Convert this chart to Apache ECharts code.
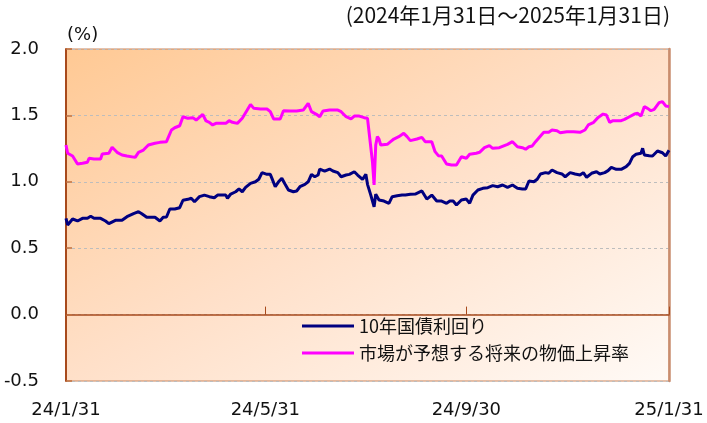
<!DOCTYPE html>
<html>
<head>
<meta charset="utf-8">
<script src="https://cdn.jsdelivr.net/npm/echarts@6/dist/echarts.min.js"></script>
<style>
html,body{margin:0;padding:0;background:#fff;}
#chart{width:707px;height:423px;}
</style>
</head>
<body>
<div id="chart"></div>
<script>
// ---- data ----
const seriesNames = ['10年国債利回り', '市場が予想する将来の物価上昇率'];

const jgbDates = ['2024-01-31','2024-02-01','2024-02-04','2024-02-07','2024-02-10','2024-02-13','2024-02-15','2024-02-17','2024-02-21','2024-02-24','2024-02-26','2024-03-01','2024-03-05','2024-03-08','2024-03-12','2024-03-15','2024-03-17','2024-03-20','2024-03-25','2024-03-28','2024-03-30','2024-04-01','2024-04-03','2024-04-06','2024-04-09','2024-04-11','2024-04-14','2024-04-16','2024-04-18','2024-04-21','2024-04-24','2024-04-27','2024-04-30','2024-05-02','2024-05-07','2024-05-08','2024-05-10','2024-05-13','2024-05-15','2024-05-17','2024-05-19','2024-05-22','2024-05-25','2024-05-27','2024-05-29','2024-06-01','2024-06-03','2024-06-04','2024-06-06','2024-06-08','2024-06-10','2024-06-12','2024-06-14','2024-06-17','2024-06-19','2024-06-21','2024-06-24','2024-06-26','2024-06-28','2024-06-30','2024-07-02','2024-07-03','2024-07-06','2024-07-09','2024-07-11','2024-07-14','2024-07-16','2024-07-19','2024-07-21','2024-07-24','2024-07-26','2024-07-29','2024-07-31','2024-08-01','2024-08-03','2024-08-05','2024-08-06','2024-08-08','2024-08-11','2024-08-14','2024-08-16','2024-08-19','2024-08-22','2024-08-24','2024-08-27','2024-08-30','2024-09-03','2024-09-06','2024-09-09','2024-09-12','2024-09-15','2024-09-18','2024-09-20','2024-09-22','2024-09-24','2024-09-27','2024-09-30','2024-10-02','2024-10-04','2024-10-07','2024-10-10','2024-10-13','2024-10-16','2024-10-19','2024-10-22','2024-10-25','2024-10-28','2024-10-31','2024-11-03','2024-11-05','2024-11-07','2024-11-10','2024-11-12','2024-11-14','2024-11-17','2024-11-19','2024-11-21','2024-11-24','2024-11-27','2024-11-29','2024-12-02','2024-12-05','2024-12-08','2024-12-10','2024-12-12','2024-12-15','2024-12-18','2024-12-20','2024-12-23','2024-12-25','2024-12-27','2024-12-30','2025-01-02','2025-01-05','2025-01-07','2025-01-09','2025-01-11','2025-01-14','2025-01-15','2025-01-16','2025-01-19','2025-01-21','2025-01-24','2025-01-27','2025-01-29','2025-01-31'];
const jgbValues = [0.725,0.675,0.72,0.705,0.725,0.725,0.74,0.725,0.725,0.705,0.685,0.71,0.71,0.737,0.76,0.775,0.76,0.733,0.733,0.705,0.733,0.735,0.795,0.795,0.805,0.861,0.868,0.876,0.85,0.888,0.9,0.888,0.88,0.9,0.9,0.876,0.908,0.925,0.946,0.925,0.958,0.988,1.0,1.019,1.069,1.056,1.056,1.026,0.963,1.0,1.026,0.981,0.938,0.925,0.931,0.963,0.981,1.0,1.056,1.038,1.051,1.096,1.081,1.096,1.081,1.069,1.038,1.051,1.056,1.076,1.051,1.018,1.056,0.981,0.9,0.812,0.906,0.863,0.855,0.838,0.888,0.895,0.9,0.9,0.906,0.908,0.931,0.87,0.9,0.855,0.855,0.838,0.855,0.855,0.825,0.863,0.87,0.838,0.9,0.938,0.951,0.956,0.971,0.963,0.976,0.958,0.976,0.951,0.946,0.946,1.006,1.0,1.019,1.059,1.069,1.064,1.089,1.069,1.059,1.038,1.069,1.059,1.051,1.069,1.034,1.064,1.076,1.059,1.069,1.084,1.109,1.094,1.094,1.114,1.139,1.189,1.207,1.215,1.252,1.202,1.197,1.194,1.232,1.219,1.194,1.237];

const beiDates = ['2024-01-31','2024-02-01','2024-02-04','2024-02-07','2024-02-10','2024-02-13','2024-02-14','2024-02-17','2024-02-21','2024-02-22','2024-02-26','2024-02-28','2024-03-02','2024-03-05','2024-03-08','2024-03-13','2024-03-15','2024-03-18','2024-03-21','2024-03-25','2024-03-28','2024-04-01','2024-04-04','2024-04-06','2024-04-09','2024-04-11','2024-04-14','2024-04-17','2024-04-19','2024-04-23','2024-04-25','2024-04-27','2024-04-29','2024-05-01','2024-05-07','2024-05-09','2024-05-11','2024-05-14','2024-05-17','2024-05-20','2024-05-22','2024-05-24','2024-05-28','2024-06-01','2024-06-03','2024-06-05','2024-06-09','2024-06-11','2024-06-15','2024-06-19','2024-06-23','2024-06-26','2024-06-28','2024-07-01','2024-07-03','2024-07-05','2024-07-09','2024-07-14','2024-07-16','2024-07-19','2024-07-22','2024-07-24','2024-07-27','2024-07-30','2024-07-31','2024-08-01','2024-08-04','2024-08-05','2024-08-06','2024-08-07','2024-08-08','2024-08-09','2024-08-13','2024-08-15','2024-08-16','2024-08-17','2024-08-20','2024-08-23','2024-08-25','2024-08-27','2024-08-31','2024-09-03','2024-09-05','2024-09-09','2024-09-11','2024-09-13','2024-09-15','2024-09-18','2024-09-21','2024-09-24','2024-09-27','2024-09-30','2024-10-02','2024-10-06','2024-10-08','2024-10-11','2024-10-14','2024-10-16','2024-10-20','2024-10-25','2024-10-28','2024-10-31','2024-11-03','2024-11-05','2024-11-07','2024-11-09','2024-11-11','2024-11-14','2024-11-16','2024-11-19','2024-11-21','2024-11-24','2024-11-26','2024-11-30','2024-12-04','2024-12-05','2024-12-08','2024-12-11','2024-12-13','2024-12-16','2024-12-19','2024-12-22','2024-12-24','2024-12-26','2024-12-28','2025-01-02','2025-01-04','2025-01-07','2025-01-10','2025-01-12','2025-01-14','2025-01-16','2025-01-18','2025-01-20','2025-01-22','2025-01-25','2025-01-27','2025-01-29','2025-01-30','2025-01-31'];
const beiValues = [1.277,1.215,1.194,1.134,1.139,1.147,1.177,1.172,1.172,1.209,1.215,1.26,1.222,1.202,1.194,1.184,1.222,1.239,1.277,1.29,1.297,1.302,1.39,1.407,1.422,1.49,1.478,1.483,1.465,1.508,1.458,1.448,1.428,1.44,1.44,1.46,1.448,1.44,1.478,1.54,1.583,1.553,1.548,1.548,1.528,1.473,1.473,1.535,1.533,1.533,1.54,1.591,1.528,1.508,1.49,1.533,1.54,1.54,1.528,1.49,1.473,1.495,1.495,1.483,1.483,1.478,1.151,0.976,1.277,1.34,1.322,1.277,1.282,1.302,1.29,1.322,1.34,1.365,1.34,1.31,1.322,1.335,1.302,1.302,1.227,1.197,1.194,1.134,1.127,1.127,1.189,1.177,1.207,1.215,1.222,1.257,1.272,1.252,1.257,1.282,1.302,1.264,1.257,1.245,1.264,1.27,1.302,1.345,1.373,1.373,1.39,1.385,1.37,1.377,1.377,1.39,1.373,1.39,1.428,1.445,1.485,1.51,1.503,1.448,1.46,1.46,1.47,1.49,1.51,1.516,1.495,1.566,1.553,1.535,1.546,1.596,1.604,1.571,1.586,1.566];

const tickDates = ['2024-01-31','2024-05-31','2024-09-30','2025-01-31'];
const tickLabels = ['24/1/31','24/5/31','24/9/30','25/1/31'];
const yTicks = [-0.5, 0.0, 0.5, 1.0, 1.5, 2.0];

// ---- chart ----
const toTime = d => Date.UTC(+d.slice(0, 4), +d.slice(5, 7) - 1, +d.slice(8, 10));
const toPairs = (d, v) => d.map((x, i) => [toTime(x), v[i]]);
const tickTimes = tickDates.map(toTime);

const chart = echarts.init(document.getElementById('chart'), null, {renderer: 'canvas'});
chart.setOption({
  animation: false,
  backgroundColor: '#ffffff',
  title: [
    {text: '(%)', left: 67, top: 26, padding: 0,
     textStyle: {fontFamily: 'DejaVu Sans', fontSize: 18, fontWeight: 'normal', color: '#111'}},
    {text: '(2024年1月31日～2025年1月31日)', right: 37, top: 5, padding: 0,
     textStyle: {fontFamily: 'Noto Sans CJK JP', fontSize: 21, fontWeight: 'normal', color: '#111'}}
  ],
  grid: {
    left: 66, top: 49, right: 38, bottom: 42,
    show: true,
    borderColor: '#c8845c', borderWidth: 1,
    backgroundColor: new echarts.graphic.LinearGradient(66, 49, 346, 558, [
      {offset: 0, color: '#ffc994'},
      {offset: 0.5, color: '#ffe0c9'},
      {offset: 1, color: '#fffaf6'}
    ], true)
  },
  legend: {
    orient: 'vertical', left: 302, top: 315, padding: 0,
    icon: 'rect', itemWidth: 52, itemHeight: 3, itemGap: 5,
    data: seriesNames,
    textStyle: {fontFamily: 'Noto Sans CJK JP', fontSize: 18, color: '#111', lineHeight: 22}
  },
  xAxis: {
    type: 'value',
    min: tickTimes[0], max: tickTimes[tickTimes.length - 1],
    axisLine: {show: true, lineStyle: {color: '#a84a1c', width: 1.5}},
    axisTick: {show: true, inside: true, length: 8, customValues: tickTimes, lineStyle: {color: '#a84a1c'}},
    axisLabel: {
      customValues: tickTimes, margin: 20,
      fontFamily: 'DejaVu Sans', fontSize: 18, color: '#111',
      showMinLabel: true, showMaxLabel: true,
      formatter: v => { const i = tickTimes.indexOf(v); return i >= 0 ? tickLabels[i] : ''; }
    },
    splitLine: {show: false}
  },
  yAxis: [{
    type: 'value', min: yTicks[0], max: yTicks[yTicks.length - 1], interval: 0.5,
    axisLine: {show: true, lineStyle: {color: '#a84a1c', width: 2}},
    axisTick: {show: true, inside: true, length: 6, lineStyle: {color: '#c0703f', width: 1.5}},
    axisLabel: {margin: 27, fontFamily: 'DejaVu Sans', fontSize: 18, color: '#111',
      formatter: v => v.toFixed(1)},
    splitLine: {show: true, lineStyle: {color: '#bdbdbd', type: [3, 3], width: 1}}
  }, {
    type: 'value', position: 'right', min: yTicks[0], max: yTicks[yTicks.length - 1], interval: 0.5,
    axisLine: {show: true, lineStyle: {color: '#c98d6e', width: 2.5}},
    axisTick: {show: false}, axisLabel: {show: false}, splitLine: {show: false}
  }],
  series: [
    {name: seriesNames[0], type: 'line', data: toPairs(jgbDates, jgbValues),
     showSymbol: false, symbol: 'none', lineStyle: {color: '#000080', width: 3}, itemStyle: {color: '#000080'}},
    {name: seriesNames[1], type: 'line', data: toPairs(beiDates, beiValues),
     showSymbol: false, symbol: 'none', lineStyle: {color: '#ff00ff', width: 3}, itemStyle: {color: '#ff00ff'}}
  ]
});
</script>
</body>
</html>
